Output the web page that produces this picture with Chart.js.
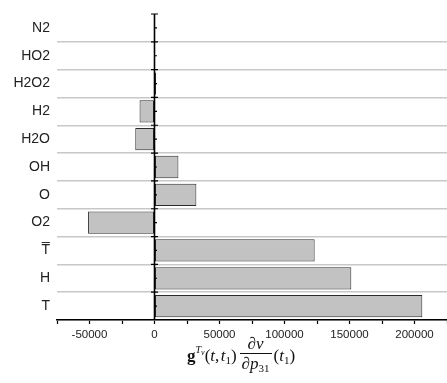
<!DOCTYPE html>
<html>
<head>
<meta charset="utf-8">
<style>
html,body{margin:0;padding:0;background:#fff;}
#wrap{position:relative;width:447px;height:383px;overflow:hidden;}
canvas{display:block;}
.math{position:absolute;font-family:'Liberation Serif','Times New Roman',serif;font-size:17px;color:#111;white-space:nowrap;line-height:1;}
.row{display:inline-flex;align-items:center;}
.frac{display:inline-flex;flex-direction:column;align-items:center;margin:0 2px 0 3px;}
.frac .num{padding:0 2px 1px 2px;line-height:17px;}
.frac .den{border-top:1px solid #111;padding:1px 2px 0 2px;line-height:17px;}
sub{font-size:11px;vertical-align:-3px;}
</style>
<script src="https://cdn.jsdelivr.net/npm/chart.js@4/dist/chart.umd.min.js"></script>
</head>
<body>
<div id="wrap">
<canvas id="c" width="447" height="383"></canvas>
<div id="xtitle" class="math" style="left:187px;top:335px;">
  <span class="row">
    <span><b>g</b><span style="font-size:10px;position:relative;top:-8px;"><i>T</i><i style="font-size:8px;position:relative;top:2px;">v</i></span>(<i>t</i>,&#8202;<i>t</i><sub>1</sub>)</span>
    <span class="frac"><span class="num">&#8706;<i>v</i></span><span class="den">&#8706;<i>p</i><sub>31</sub></span></span>
    <span>(<i>t</i><sub>1</sub>)</span>
  </span>
</div>
</div>
<script>
const categories = ['N2', 'HO2', 'H2O2', 'H2', 'H2O', 'OH', 'O', 'O2', 'T\u0305', 'H', 'T'];
const values = [0, 200, 1200, -11500, -14800, 18400, 32200, -51100, 123200, 151400, 206000];
const xMin = -75000;
const xMax = 225000;
const xStep = 25000;
const xLabelStep = 50000;

Chart.defaults.font.family = "'Liberation Sans', Arial, sans-serif";

const zeroLine = {
  id: 'zeroLine',
  afterDatasetsDraw(chart) {
    const ctx = chart.ctx, xs = chart.scales.x, ys = chart.scales.y, ca = chart.chartArea;
    const x0 = xs.getPixelForValue(0);
    const half = (ys.getPixelForValue(1) - ys.getPixelForValue(0)) / 2;
    ctx.save();
    ctx.strokeStyle = '#000';
    ctx.lineWidth = 1.6;
    ctx.beginPath();
    ctx.moveTo(x0, ca.top);
    ctx.lineTo(x0, ca.bottom);
    ctx.stroke();
    ctx.lineWidth = 1.2;
    for (let i = 0; i < categories.length; i++) {
      const yc = ys.getPixelForValue(i);
      const yb = yc - half;
      ctx.beginPath();
      ctx.moveTo(x0 - 3.5, yb); ctx.lineTo(x0 + 3.5, yb);
      ctx.moveTo(x0, yc); ctx.lineTo(x0 + 2.5, yc);
      ctx.stroke();
    }
    ctx.restore();
  }
};

new Chart(document.getElementById('c'), {
  type: 'bar',
  data: {
    labels: categories,
    datasets: [{
      data: values,
      backgroundColor: '#c2c2c2',
      borderColor: '#2a2a2a',
      borderWidth: 1,
      borderSkipped: false,
      barPercentage: 0.8,
      categoryPercentage: 1.0
    }]
  },
  options: {
    responsive: false,
    animation: false,
    indexAxis: 'y',
    layout: { padding: { top: 14, right: 0, left: 0, bottom: 0 } },
    plugins: { legend: { display: false }, tooltip: { enabled: false } },
    scales: {
      x: {
        min: xMin, max: xMax,
        border: { display: true, color: '#000', width: 1.5 },
        grid: { drawOnChartArea: false, drawTicks: true, tickLength: 4, tickColor: '#000', tickWidth: 1.2 },
        ticks: {
          stepSize: xStep, autoSkip: false, maxRotation: 0, padding: 4,
          color: '#222', font: { size: 11.5 },
          callback: (v) => (v % xLabelStep === 0 && v > xMin && v < xMax) ? String(v) : ''
        },
        afterFit: (s) => { s.height = 63; s.paddingLeft = 0; s.paddingRight = 0; }
      },
      y: {
        border: { display: false },
        grid: { offset: true, color: (c) => c.index === 0 ? 'rgba(0,0,0,0)' : '#c8c8c8', lineWidth: 1.5, drawTicks: false },
        ticks: { padding: 7, color: '#222', font: { size: 14 } },
        afterFit: (s) => { s.width = 57; s.paddingTop = 0; s.paddingBottom = 0; }
      }
    }
  },
  plugins: [zeroLine]
});
</script>
</body>
</html>
